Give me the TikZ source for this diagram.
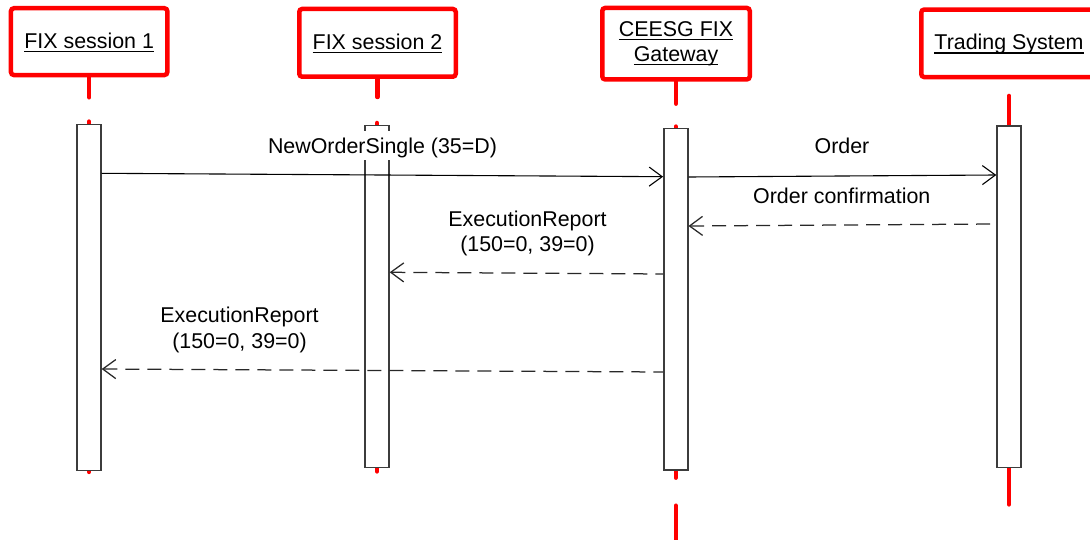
\documentclass[tikz,border=0pt]{standalone}
\usepackage{fontspec}
\setmainfont{Liberation Sans}
\usetikzlibrary{arrows.meta,backgrounds}
\definecolor{hdrred}{RGB}{255,0,0}
\definecolor{boxgray}{RGB}{60,60,60}
\definecolor{dashgray}{RGB}{40,40,40}
\newcommand{\hdrul}[1]{\setbox0=\hbox{#1}\leavevmode\rlap{\raisebox{-3.8pt}{\rule{\wd0}{1.3pt}}}\box0}
\begin{document}
\begin{tikzpicture}[x=1pt,y=-1pt,
  font=\fontsize{21.4pt}{25.5pt}\selectfont,
  hdr/.style={draw=hdrred, line width=4.5pt, rounded corners=3pt, inner sep=0pt, align=center},
  life/.style={draw=hdrred, line width=4.5pt, line cap=round},
  actbox/.style={draw=boxgray, line width=1.4pt, fill=white, minimum width=24pt, inner sep=0pt},
  msg/.style={draw=black, line width=1.1pt, -{Straight Barb[length=13pt,width=19pt]}},
  rmsg/.style={draw=dashgray, line width=1.25pt, dash pattern=on 14pt off 8pt, {Straight Barb[length=13pt,width=19pt]}-},
  lbl/.style={inner sep=0pt}]
\useasboundingbox (0,0) rectangle (1090,540);
\clip (0,0) rectangle (1090,540);

% header boxes
\node[hdr, minimum width=156.4pt, minimum height=66.8pt, text height=15.6pt, text depth=2.2pt] (h1) at (89.15,41.65) {\hdrul{FIX session 1}};
\node[hdr, minimum width=156.5pt, minimum height=67.8pt, text height=15.6pt, text depth=2.2pt] (h2) at (377.5,42.85) {\hdrul{FIX session 2}};
\node[hdr, minimum width=147.5pt, minimum height=71.5pt] (h3) at (676,43.7) {\hdrul{CEESG FIX}\\\hdrul{Gateway}};
\node[hdr, minimum width=175.5pt, minimum height=67.5pt, text height=15.6pt, text depth=2.2pt] (h4) at (1009,43.3) {\hdrul{Trading System}};

% activation bars
\node[actbox, minimum height=346.4pt] (a1) at (89,297.5) {};
\node[actbox, minimum height=341.6pt] (a2) at (377,296.5) {};
\node[actbox, minimum height=341.7pt] (a3) at (675.8,299.15) {};
\node[actbox, minimum height=341.3pt] (a4) at (1009,296.65) {};

% lifelines
\begin{scope}[on background layer]
  \fill[white] (0,0) rectangle (1090,540);
  \draw[life] (h1.south) -- ++(0,20);
  \draw[life] ([yshift=2pt]a1.north) -- ([yshift=-0.5pt]a1.south);
  \draw[life] (h2.south) -- ++(0,18);
  \draw[life] ([yshift=2pt]a2.north) -- ([yshift=-3.4pt]a2.south);
  \draw[life] (h3.south) -- ++(0,22);
  \draw[life] ([yshift=1pt]a3.north) -- ([yshift=-7pt]a3.south);
  \draw[life] ([yshift=-35pt]a3.south) -- ++(0,45);
  \draw[life] ([yshift=-16.65pt]h4.south) -- ([yshift=-36.4pt]a4.south);
\end{scope}

% messages
\draw[msg] (a1.east |- 0,173.3) -- (a3.west |- 0,176.7);
\draw[msg] (a3.east |- 0,177) -- (a4.west |- 0,175);
\draw[rmsg] (a3.east |- 0,226) -- (a4.west |- 0,224);
\draw[rmsg] (a2.east |- 0,272.3) -- (a3.west |- 0,274);
\draw[rmsg] (a1.east |- 0,369) -- (a3.west |- 0,372);

% labels
\node[lbl, fill=white, text height=23.3pt, text depth=6pt, anchor=base] (t1) at (382.5,154) {NewOrderSingle (35=D)};
\node[lbl, anchor=base] (t2) at (842,154) {Order};
\node[lbl, anchor=base] (t3) at (841.8,203.3) {Order confirmation};
\node[lbl, align=center, anchor=north] (t4) at (527.5,210.7) {ExecutionReport\\(150=0, 39=0)};
\node[lbl, align=center, anchor=north] (t5) at (239.5,307.2) {ExecutionReport\\(150=0, 39=0)};
\end{tikzpicture}
\end{document}
